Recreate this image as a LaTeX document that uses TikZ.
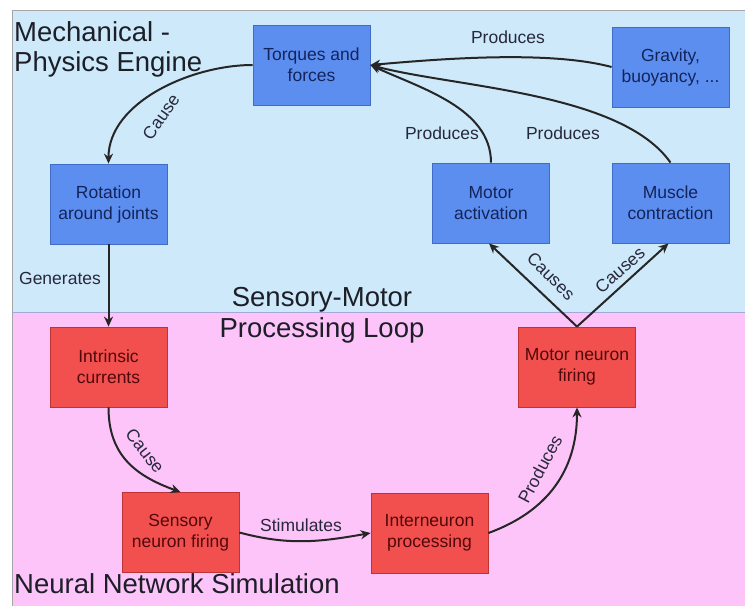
\documentclass[tikz,border=0pt]{standalone}
\usepackage{fontspec}
\setmainfont{Liberation Sans}
\usetikzlibrary{arrows.meta}
\definecolor{bgblue}{RGB}{206,234,250}
\definecolor{bgpink}{RGB}{252,196,248}
\definecolor{boxblue}{RGB}{92,142,240}
\definecolor{boxblueline}{RGB}{64,108,200}
\definecolor{boxred}{RGB}{242,80,78}
\definecolor{boxredline}{RGB}{190,52,52}
\definecolor{bluetext}{RGB}{20,36,90}
\definecolor{redtext}{RGB}{80,8,10}
\definecolor{titletext}{RGB}{28,30,40}
\definecolor{edgelbl}{RGB}{40,40,60}
\tikzset{
  bluebox/.style={draw=boxblueline, fill=boxblue, line width=0.8pt, minimum width=117pt, minimum height=80pt, inner sep=0pt, align=center, text=bluetext, font=\fontsize{17.5}{21}\selectfont},
  redbox/.style={draw=boxredline, fill=boxred, line width=0.8pt, minimum width=117pt, minimum height=80pt, inner sep=0pt, align=center, text=redtext, font=\fontsize{17.5}{21}\selectfont},
  conn/.style={line width=2pt, draw=black!85, -{Stealth[length=10pt,width=9pt]}},
  elabel/.style={font=\fontsize{17.5}{20}\selectfont, text=edgelbl, inner sep=1pt},
  title/.style={font=\fontsize{27.5}{31}\selectfont, text=titletext, inner sep=0pt}
}
\begin{document}
\begin{tikzpicture}[x=1pt,y=-1pt]
\useasboundingbox (0,0) rectangle (745,606);
% backgrounds
\fill[bgblue] (12,10) rectangle (745,312);
\fill[bgpink] (12,312) rectangle (745,606);
\draw[gray!70, line width=0.8pt] (745,10) -- (12,10) -- (12,606);
\draw[gray!60!blue!50, line width=0.8pt] (12,312) -- (745,312);
% titles
\node[title, anchor=base west] (mech1) at (14,41) {Mechanical -};
\node[title, anchor=base west] (mech2) at (14,71) {Physics Engine};
\node[title, anchor=base] (smtop) at (322,306) {Sensory-Motor};
\node[title, anchor=base] (smbot) at (322,337) {Processing Loop};
\node[title, anchor=base west] (neural) at (14,593) {Neural Network Simulation};
% boxes
\node[bluebox] (torq) at (311.5,65) {Torques and\\forces};
\node[bluebox] (grav) at (670.5,67) {Gravity,\\buoyancy, ...};
\node[bluebox] (rot) at (108.5,204) {Rotation\\around joints};
\node[bluebox] (mact) at (491,203) {Motor\\activation};
\node[bluebox] (musc) at (670.5,203) {Muscle\\contraction};
\node[redbox] (intr) at (108.5,367) {Intrinsic\\currents};
\node[redbox] (mneu) at (577,367) {Motor neuron\\firing};
\node[redbox] (sens) at (180.5,532.5) {Sensory\\neuron firing};
\node[redbox] (inter) at (429.5,533) {Interneuron\\processing};
% connectors
\draw[conn] (torq.west) to[out=180, in=90, looseness=0.9] (rot.north);
\node[elabel, rotate=55] (lcause1) at (161,117) {Cause};
\draw[conn] (rot.south) -- (intr.north);
\node[elabel] (lgen) at (60,278) {Generates};
\draw[conn] (intr.south) to[out=-90, in=160, looseness=1.1] (sens.north);
\node[elabel, rotate=-52] (lcause2) at (145,451) {Cause};
\draw[conn] (sens.east) to[out=-15, in=190, looseness=1] (inter.west);
\node[elabel] (lstim) at (301,525) {Stimulates};
\draw[conn] (inter.east) to[out=20, in=-90, looseness=1.05] (mneu.south);
\node[elabel, rotate=62] (lprod1) at (540,469) {Produces};
\draw[conn] (mneu.north) -- ([xshift=-2pt]mact.south);
\node[elabel, rotate=-45] (lcauses1) at (551,276) {Causes};
\draw[conn] (mneu.north) -- ([xshift=-2pt]musc.south);
\node[elabel, rotate=41] (lcauses2) at (620,270) {Causes};
\draw[conn] (mact.north) to[out=90, in=-25, looseness=0.9] (torq.east);
\node[elabel] (lprod2) at (442,133) {Produces};
\draw[conn] (musc.north) to[out=125, in=-15, looseness=0.7] (torq.east);
\node[elabel] (lprod3) at (563,133) {Produces};
\draw[conn] (grav.west) to[out=165, in=5, looseness=0.7] (torq.east);
\node[elabel] (lprod4) at (508,37) {Produces};
\end{tikzpicture}
\end{document}
